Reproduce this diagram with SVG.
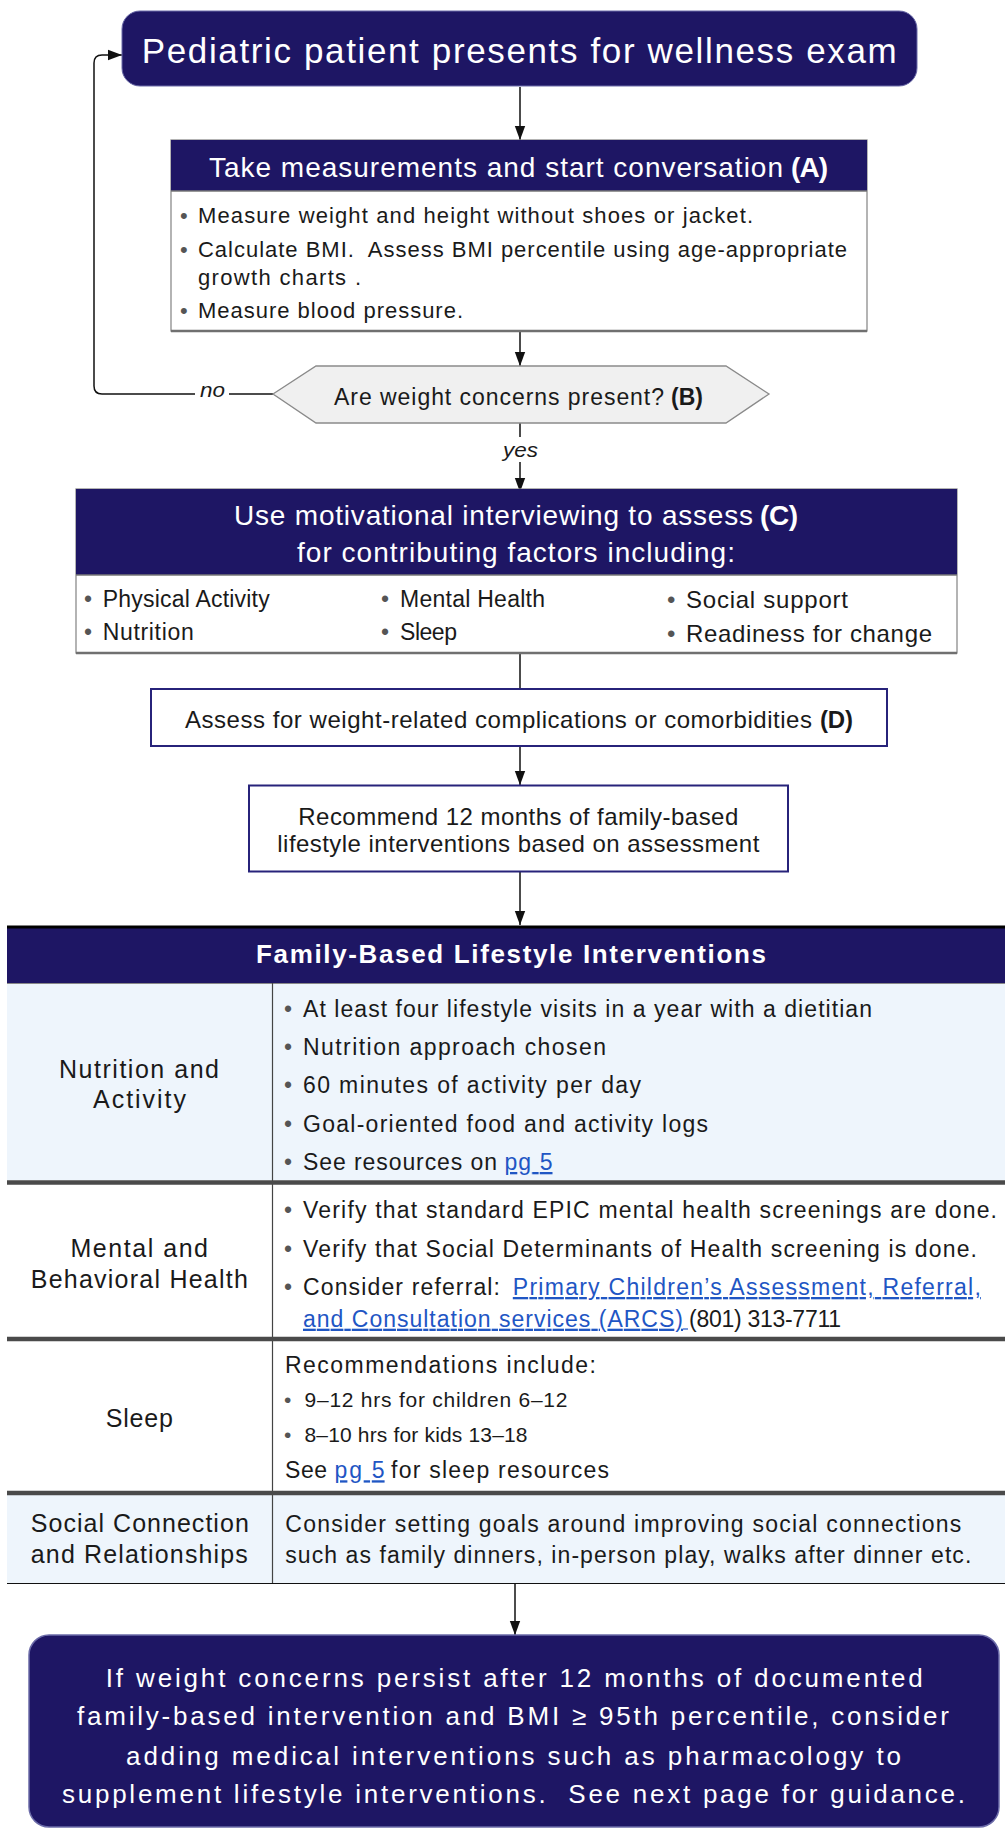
<svg xmlns="http://www.w3.org/2000/svg" width="1005" height="1830" viewBox="0 0 1005 1830">
<style>
text{font-family:"Liberation Sans",Arial,sans-serif;fill:#1a1a1a}
.w{fill:#fff}
.b{font-weight:bold}
.hd{font-size:28px;fill:#fff}
.bd{font-size:22px}
.c23{font-size:23px}
.c24{font-size:24px}
.tb{font-size:23px}
.lb{font-size:25px}
.sm{font-size:21px}
.fin{font-size:26px;fill:#fff}
.bl{fill:#555}
.lk{fill:#1f56c4;text-decoration:underline}
.it{font-style:italic;font-size:20px}
.navy{fill:#1e1664}
.conn{stroke:#111;stroke-width:1.5;fill:none}
.div{stroke:#4a4a4a;stroke-width:4.5}
</style>
<defs>
<marker id="ah" markerUnits="userSpaceOnUse" markerWidth="14" markerHeight="12" refX="14" refY="6" orient="auto"><path d="M0,0.8 L14,6 L0,11.2 z" fill="#111"/></marker>
</defs>

<g id="connectors">
<path class="conn" d="M520,87 V140" marker-end="url(#ah)"/>
<path class="conn" d="M520,332 V366" marker-end="url(#ah)"/>
<path class="conn" d="M520,423 V437"/>
<path class="conn" d="M520,462 V492" marker-end="url(#ah)"/>
<path class="conn" d="M520,654 V689"/>
<path class="conn" d="M520,747 V785" marker-end="url(#ah)"/>
<path class="conn" d="M520,872 V925" marker-end="url(#ah)"/>
<path class="conn" d="M515,1584 V1635" marker-end="url(#ah)"/>
<path class="conn" d="M273,394 H229"/>
<path class="conn" d="M195,394 H102 Q94,394 94,386 V63 Q94,55 102,55 H122" marker-end="url(#ah)"/>
<text class="it" x="200" y="397" textLength="25" lengthAdjust="spacingAndGlyphs">no</text>
<text class="it" x="503" y="456.5" textLength="35" lengthAdjust="spacingAndGlyphs">yes</text>
</g>

<g id="start">
<rect x="122" y="11" width="795" height="75" rx="18" class="navy" stroke="#6b6ba8" stroke-width="1"/>
<text class="w" x="141.7" y="63.3" font-size="35" textLength="755" lengthAdjust="spacing">Pediatric patient presents for wellness exam</text>
</g>

<g id="measure">
<rect x="171" y="140" width="696" height="191" fill="#fff" stroke="#8c8c8c" stroke-width="1.3"/>
<rect x="171" y="140" width="696" height="51" class="navy"/>
<line x1="171" y1="191" x2="867" y2="191" stroke="#777" stroke-width="1.5"/>
<line x1="171" y1="331" x2="867" y2="331" stroke="#707070" stroke-width="2.5"/>
<text class="hd" x="209" y="176.7" textLength="574" lengthAdjust="spacing">Take measurements and start conversation</text>
<text class="hd b" x="791" y="176.7" textLength="37" lengthAdjust="spacing">(A)</text>
<text class="bd bl" x="180" y="222.7">•</text>
<text class="bd" x="198" y="222.7" textLength="555" lengthAdjust="spacing">Measure weight and height without shoes or jacket.</text>
<text class="bd bl" x="180" y="256.7">•</text>
<text class="bd" x="198" y="256.7" textLength="649" lengthAdjust="spacing">Calculate BMI.&#160; Assess BMI percentile using age-appropriate</text>
<text class="bd" x="198" y="285" textLength="163" lengthAdjust="spacing">growth charts .</text>
<text class="bd bl" x="180" y="318">•</text>
<text class="bd" x="198" y="318" textLength="265" lengthAdjust="spacing">Measure blood pressure.</text>
</g>

<g id="decision">
<polygon points="273,394 316,366 726,366 769,394 726,423 316,423" fill="#f0f0f0" stroke="#8a8a8a" stroke-width="1.3"/>
<text class="c23" x="334" y="405" textLength="330" lengthAdjust="spacing">Are weight concerns present?</text>
<text class="c23 b" x="671" y="405" textLength="32" lengthAdjust="spacing">(B)</text>
</g>

<g id="assess">
<rect x="76" y="489" width="881" height="164" fill="#fff" stroke="#8c8c8c" stroke-width="1.3"/>
<rect x="76" y="489" width="881" height="86" class="navy"/>
<line x1="76" y1="575" x2="957" y2="575" stroke="#777" stroke-width="1.5"/>
<line x1="76" y1="653" x2="957" y2="653" stroke="#707070" stroke-width="2.5"/>
<text class="hd" x="234" y="525" textLength="519" lengthAdjust="spacing">Use motivational interviewing to assess</text>
<text class="hd b" x="760" y="525" textLength="38" lengthAdjust="spacing">(C)</text>
<text class="hd" x="297" y="561.7" textLength="438" lengthAdjust="spacing">for contributing factors including:</text>
<text class="c23 bl" x="84" y="606.7">•</text>
<text class="c23" x="102.7" y="606.7" textLength="167" lengthAdjust="spacing">Physical Activity</text>
<text class="c23 bl" x="84" y="640">•</text>
<text class="c23" x="102.7" y="640" textLength="91" lengthAdjust="spacing">Nutrition</text>
<text class="c23 bl" x="381" y="606.7">•</text>
<text class="c23" x="400" y="606.7" textLength="145" lengthAdjust="spacing">Mental Health</text>
<text class="c23 bl" x="381" y="640">•</text>
<text class="c23" x="400" y="640" textLength="57" lengthAdjust="spacing">Sleep</text>
<text class="c24 bl" x="667" y="608">•</text>
<text class="c24" x="686" y="608" textLength="162" lengthAdjust="spacing">Social support</text>
<text class="c24 bl" x="667" y="641.7">•</text>
<text class="c24" x="686" y="641.7" textLength="246" lengthAdjust="spacing">Readiness for change</text>
</g>

<g id="comorbid">
<rect x="151" y="689" width="736" height="57" fill="#fff" stroke="#27237a" stroke-width="2"/>
<text class="c24" x="185" y="728.3" textLength="627" lengthAdjust="spacing">Assess for weight-related complications or comorbidities</text>
<text class="c24 b" x="820" y="728.3" textLength="33" lengthAdjust="spacing">(D)</text>
</g>

<g id="recommend">
<rect x="249" y="785.5" width="539" height="86" fill="#fff" stroke="#27237a" stroke-width="2"/>
<text class="c24" x="298.3" y="825" textLength="440" lengthAdjust="spacing">Recommend 12 months of family-based</text>
<text class="c24" x="277.3" y="851.7" textLength="482" lengthAdjust="spacing">lifestyle interventions based on assessment</text>
</g>

<g id="interventions">
<rect x="7" y="927" width="998" height="56" class="navy"/>
<line x1="7" y1="927" x2="1005" y2="927" stroke="#000" stroke-width="3"/>
<text class="w b" x="256" y="963.3" style="font-size:26px" textLength="510" lengthAdjust="spacing">Family-Based Lifestyle Interventions</text>
<rect x="7" y="983" width="998" height="197" fill="#eef5fc"/>
<rect x="7" y="1180" width="998" height="314" fill="#fff"/>
<rect x="7" y="1494" width="998" height="89" fill="#eef5fc"/>
<line x1="7" y1="983.5" x2="1005" y2="983.5" stroke="#888" stroke-width="1"/>
<line x1="272.5" y1="983" x2="272.5" y2="1583" stroke="#444" stroke-width="1.2"/>
<line class="div" x1="7" y1="1182.5" x2="1005" y2="1182.5"/>
<line class="div" x1="7" y1="1339" x2="1005" y2="1339"/>
<line class="div" x1="7" y1="1493" x2="1005" y2="1493"/>
<line x1="7" y1="1583.5" x2="1005" y2="1583.5" stroke="#111" stroke-width="1.2"/>

<g id="row-nutrition">
<text class="lb" x="59" y="1078" textLength="160" lengthAdjust="spacing">Nutrition and</text>
<text class="lb" x="93" y="1108" textLength="93" lengthAdjust="spacing">Activity</text>
<text class="tb bl" x="284" y="1016.7">•</text>
<text class="tb" x="303" y="1016.7" textLength="569" lengthAdjust="spacing">At least four lifestyle visits in a year with a dietitian</text>
<text class="tb bl" x="284" y="1055">•</text>
<text class="tb" x="303" y="1055" textLength="303" lengthAdjust="spacing">Nutrition approach chosen</text>
<text class="tb bl" x="284" y="1093.3">•</text>
<text class="tb" x="303" y="1093.3" textLength="338" lengthAdjust="spacing">60 minutes of activity per day</text>
<text class="tb bl" x="284" y="1131.7">•</text>
<text class="tb" x="303" y="1131.7" textLength="405" lengthAdjust="spacing">Goal-oriented food and activity logs</text>
<text class="tb bl" x="284" y="1170">•</text>
<text class="tb" x="303" y="1170" textLength="194" lengthAdjust="spacing">See resources on</text>
<text class="tb lk" x="504.5" y="1170" textLength="48" lengthAdjust="spacing">pg 5</text>
</g>

<g id="row-mental">
<text class="lb" x="70.5" y="1256.7" textLength="137.5" lengthAdjust="spacing">Mental and</text>
<text class="lb" x="30.8" y="1288.3" textLength="217" lengthAdjust="spacing">Behavioral Health</text>
<text class="tb bl" x="284" y="1218.3">•</text>
<text class="tb" x="303" y="1218.3" textLength="694" lengthAdjust="spacing">Verify that standard EPIC mental health screenings are done.</text>
<text class="tb bl" x="284" y="1256.7">•</text>
<text class="tb" x="303" y="1256.7" textLength="674" lengthAdjust="spacing">Verify that Social Determinants of Health screening is done.</text>
<text class="tb bl" x="284" y="1295">•</text>
<text class="tb" x="303" y="1295" textLength="197" lengthAdjust="spacing">Consider referral:</text>
<text class="tb lk" x="512.8" y="1295" textLength="468" lengthAdjust="spacing">Primary Children’s Assessment, Referral,</text>
<text class="tb lk" x="303" y="1326.7" textLength="380" lengthAdjust="spacing">and Consultation services (ARCS)</text>
<line x1="683" y1="1329" x2="688" y2="1329" stroke="#1f56c4" stroke-width="1.2"/>
<text class="tb" x="689" y="1326.7" textLength="152" lengthAdjust="spacing">(801) 313-7711</text>
</g>

<g id="row-sleep">
<text class="lb" x="105.8" y="1426.7" textLength="67" lengthAdjust="spacing">Sleep</text>
<text class="tb" x="285" y="1373.3" textLength="311" lengthAdjust="spacing">Recommendations include:</text>
<text class="sm bl" x="284" y="1406.7">•</text>
<text class="sm" x="304.5" y="1406.7" textLength="263" lengthAdjust="spacing">9–12 hrs for children 6–12</text>
<text class="sm bl" x="284" y="1441.7">•</text>
<text class="sm" x="304.5" y="1441.7" textLength="223" lengthAdjust="spacing">8–10 hrs for kids 13–18</text>
<text class="tb" x="285" y="1478.3" textLength="42" lengthAdjust="spacing">See</text>
<text class="tb lk" x="334.6" y="1478.3" textLength="50" lengthAdjust="spacing">pg 5</text>
<text class="tb" x="391" y="1478.3" textLength="218" lengthAdjust="spacing">for sleep resources</text>
</g>

<g id="row-social">
<text class="lb" x="30.8" y="1531.7" textLength="218" lengthAdjust="spacing">Social Connection</text>
<text class="lb" x="30.8" y="1563.3" textLength="217" lengthAdjust="spacing">and Relationships</text>
<text class="tb" x="285.3" y="1531.7" textLength="676" lengthAdjust="spacing">Consider setting goals around improving social connections</text>
<text class="tb" x="285.3" y="1563.3" textLength="686" lengthAdjust="spacing">such as family dinners, in-person play, walks after dinner etc.</text>
</g>
</g>

<g id="medical">
<rect x="29" y="1635" width="970" height="192" rx="20" class="navy" stroke="#6b6ba8" stroke-width="1.5"/>
<text class="fin" x="105.8" y="1687" textLength="817" lengthAdjust="spacing">If weight concerns persist after 12 months of documented</text>
<text class="fin" x="77" y="1725" textLength="872" lengthAdjust="spacing">family-based intervention and BMI ≥ 95th percentile, consider</text>
<text class="fin" x="126" y="1765" textLength="775" lengthAdjust="spacing">adding medical interventions such as pharmacology to</text>
<text class="fin" x="62" y="1803.3" textLength="903" lengthAdjust="spacing">supplement lifestyle interventions.&#160; See next page for guidance.</text>
</g>
</svg>
